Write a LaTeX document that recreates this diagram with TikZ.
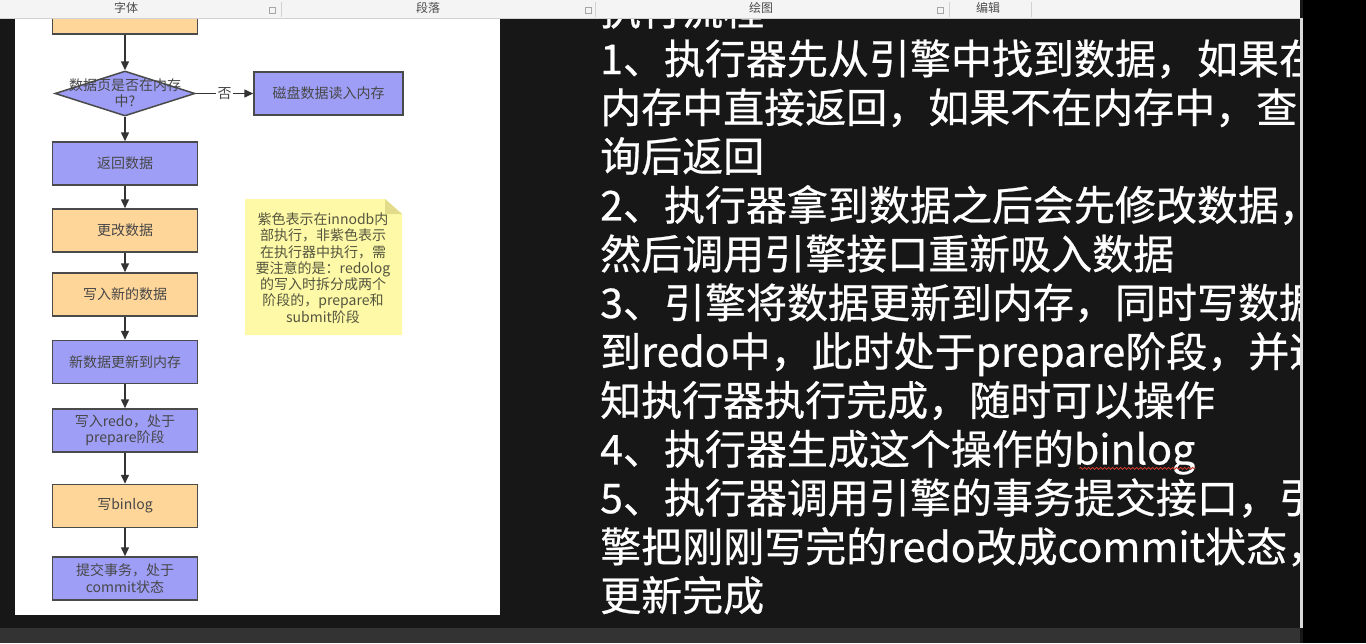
\documentclass[tikz,border=0pt]{standalone}
\usepackage{fontspec}
\setmainfont{Noto Sans CJK SC}
\newfontfamily\boardfont[FakeBold=0.6]{Noto Sans CJK SC}
\usetikzlibrary{arrows.meta,positioning,shapes.geometric,decorations.pathmorphing}
\definecolor{board}{HTML}{171717}
\definecolor{flowtext}{HTML}{474747}
\definecolor{boxedge}{HTML}{4A4A4A}
\definecolor{execfill}{HTML}{FFD699}
\definecolor{innofill}{HTML}{9E9EF7}
\definecolor{notefill}{HTML}{FDF9A6}
\definecolor{notefold}{HTML}{E2DC8A}
\definecolor{notetextc}{HTML}{55553F}
\definecolor{ribbon}{HTML}{F4F4F4}
\definecolor{ribbonline}{HTML}{D2D2D2}
\definecolor{spellred}{HTML}{C0392B}

\begin{document}
\begin{tikzpicture}[x=1pt,y=-1pt,
      every node/.style={inner sep=0pt},
      flowlabel/.style={align=center,text=flowtext,font=\fontsize{14}{16.3}\selectfont},
      box/.style={flowlabel,draw=boxedge,line width=1.5pt,minimum width=145pt,minimum height=43pt},
      exec/.style={box,fill=execfill},
      inno/.style={box,fill=innofill},
      decision/.style={diamond,draw=boxedge,line width=1.5pt,fill=innofill,minimum width=140pt,minimum height=45pt},
      arr/.style={-{Triangle[length=9pt,width=8pt]},line width=1.5pt,draw=black!80},
      steptext/.style={anchor=base west,text=white,font=\boardfont\fontsize{41}{48}\selectfont},
      tab/.style={text=black!70,font=\fontsize{12}{14}\selectfont}]
    \useasboundingbox (0,0) rectangle (1366,643);
    \fill[board] (0,0) rectangle (1366,643);
    \fill[white] (15,18) rectangle (500,615);

    % flow chart, purple = inside innodb
    \begin{scope}
    \clip (15,18) rectangle (500,615);
    \node[exec] (fetch) at (125,12.5) {查找数据};
    \node[decision] (inmem) at (125,93.5) {};
    \node[flowlabel] (inmemtext) at (125,93) {数据页是否在内存\\中?};
    \node[inno,minimum width=149pt] (disk) at (328.5,93.5) {磁盘数据读入内存};
    \node[inno] (ret) at (125,163.5) {返回数据};
    \node[exec] (modify) at (125,230.5) {更改数据};
    \node[exec] (writenew) at (125,294.5) {写入新的数据};
    \node[inno] (tomem) at (125,362) {新数据更新到内存};
    \node[inno] (redo) at (125,430.5) {写入redo，处于\\prepare阶段};
    \node[exec] (binlog) at (125,506) {写binlog};
    \node[inno] (commit) at (125,578.5) {提交事务，处于\\commit状态};

    \draw[arr] (fetch) -- (inmem);
    \draw[arr] (inmem) -- node[flowlabel,fill=white,inner sep=1.5pt] (no) {否} (disk);
    \draw[arr] (inmem) -- (ret);
    \draw[arr] (ret) -- (modify);
    \draw[arr] (modify) -- (writenew);
    \draw[arr] (writenew) -- (tomem);
    \draw[arr] (tomem) -- (redo);
    \draw[arr] (redo) -- (binlog);
    \draw[arr] (binlog) -- (commit);

    % sticky note
    \fill[notefill] (245,199) -- (385,199) -- (402,214) -- (402,335) -- (245,335) -- cycle;
    \fill[notefold] (385,199) -- (385,214) -- (402,214) -- cycle;
    \node[flowlabel,text=notetextc] (notetext) at (323,268) {紫色表示在innodb内\\部执行，非紫色表示\\在执行器中执行，需\\要注意的是：redolog\\的写入时拆分成两个\\阶段的，prepare和\\submit阶段};
    \end{scope}

    % steps on the board
    \begin{scope}
    \clip (500,18) rectangle (1300,628);
    \node[steptext] (l0) at (600,25.2) {执行流程};
    \node[steptext] (l1) at (600,74) {1、执行器先从引擎中找到数据，如果在};
    \node[steptext] (l2) at (600,122.8) {内存中直接返回，如果不在内存中，查};
    \node[steptext] (l3) at (600,171.6) {询后返回};
    \node[steptext] (l4) at (600,220.4) {2、执行器拿到数据之后会先修改数据，};
    \node[steptext] (l5) at (600,269.2) {然后调用引擎接口重新吸入数据};
    \node[steptext] (l6) at (600,318) {3、引擎将数据更新到内存，同时写数据};
    \node[steptext] (l7) at (600,366.8) {到redo中，此时处于prepare阶段，并通};
    \node[steptext] (l8) at (600,415.6) {知执行器执行完成，随时可以操作};
    \node[steptext] (l9) at (600,464.4) {4、执行器生成这个操作的binlog};
    \node[steptext] (l10) at (600,513.2) {5、执行器调用引擎的事务提交接口，引};
    \node[steptext] (l11) at (600,562) {擎把刚刚写完的redo改成commit状态，};
    \node[steptext] (l12) at (600,610.8) {更新完成};
    \draw[spellred,line width=0.9pt,decorate,decoration={snake,amplitude=1pt,segment length=4pt}]
      ([xshift=-116pt,yshift=-4pt]l9.base east) -- ([yshift=-4pt]l9.base east);
    \end{scope}

    % window edges
    \fill[black] (1303,0) rectangle (1366,643);
    \fill[black!15] (1300,18) rectangle (1303,628);
    \fill[black!80] (0,628) rectangle (1300,643);

    % ribbon
    \fill[ribbon] (0,0) rectangle (1300,18);
    \draw[ribbonline] (0,18) -- (1300,18) (281,2) -- (281,17) (595,2) -- (595,17) (949,2) -- (949,17) (1031,2) -- (1031,17);
    \draw[black!35,line width=0.5pt] (269,7) rectangle (275,13) (585,7) rectangle (591,13) (937,7) rectangle (943,13);
    \node[tab] (tabfont) at (126,8) {字体};
    \node[tab] (tabpara) at (428,8) {段落};
    \node[tab] (tabdraw) at (761,8) {绘图};
    \node[tab] (tabedit) at (988,8) {编辑};
  \end{tikzpicture}
\end{document}
